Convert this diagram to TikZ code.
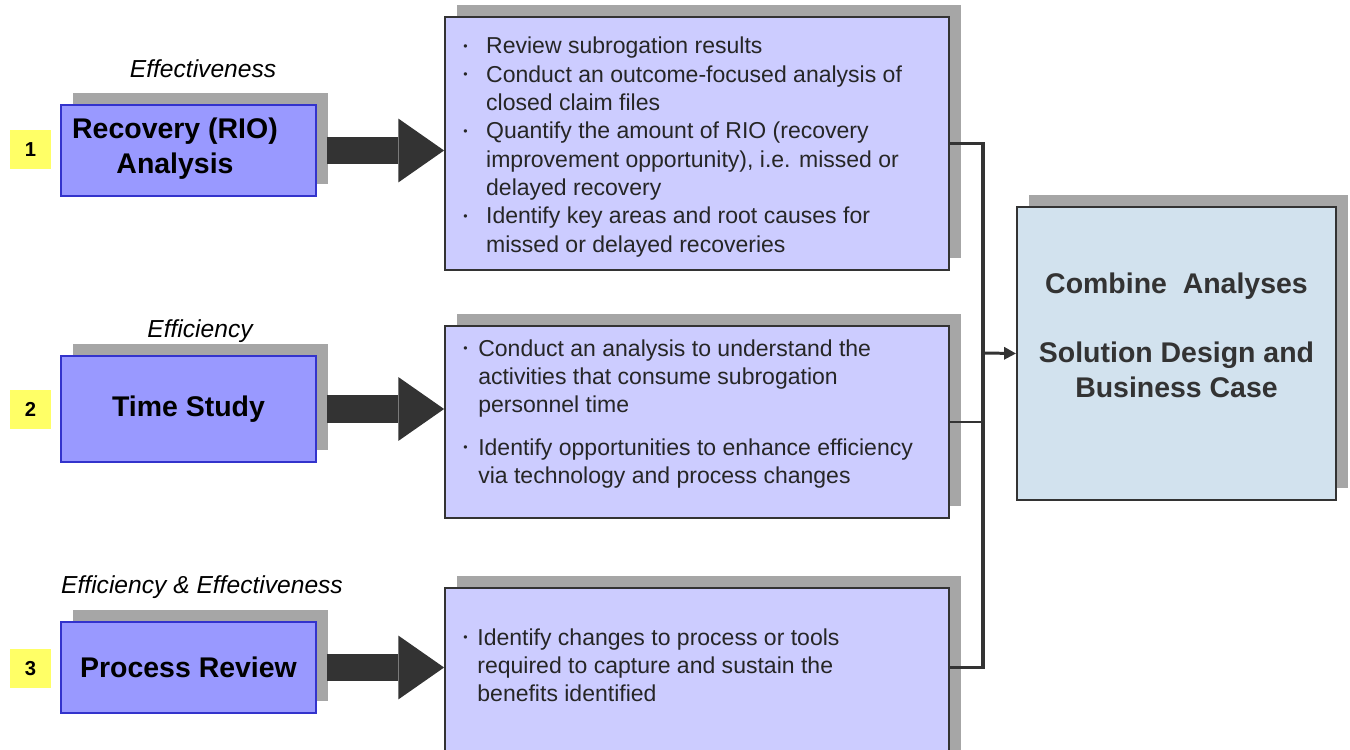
\documentclass[tikz,border=0pt]{standalone}
\usepackage{fontspec}
\setmainfont{Liberation Sans}
\usetikzlibrary{arrows.meta,shadows}
\definecolor{stepblue}{HTML}{9999FF}
\definecolor{stepedge}{HTML}{3333CC}
\definecolor{notefill}{HTML}{CCCCFF}
\definecolor{darkline}{HTML}{333333}
\definecolor{shadowgray}{HTML}{A6A6A6}
\definecolor{resultfill}{HTML}{D2E2EE}
\definecolor{tagyellow}{HTML}{FFFF66}
\newcommand{\notebul}{\raisebox{2pt}{\scriptsize\textbullet}}
\tikzset{
	boxshadow/.style={drop shadow={shadow xshift=6.8pt, shadow yshift=6.8pt, fill=shadowgray, opacity=1}},
	stepbox/.style={boxshadow, draw=stepedge, line width=1.1pt, fill=stepblue, minimum width=5.1cm, font=\fontsize{16.2}{19.8}\selectfont\bfseries},
	steptitle/.style={align=center, inner sep=0pt, font=\fontsize{16.2}{19.8}\selectfont\bfseries},
	notebox/.style={boxshadow, draw=darkline, line width=1.1pt, fill=notefill, minimum width=10.08cm},
	notetext/.style={anchor=base west, inner sep=0pt, text=black!85, font=\fontsize{13.1}{16.1}\selectfont},
	resultbox/.style={boxshadow, draw=darkline, line width=1.1pt, fill=resultfill, minimum width=6.38cm, minimum height=5.86cm},
	tagbox/.style={fill=tagyellow, minimum width=0.84cm, minimum height=0.8cm, inner sep=0pt, font=\fontsize{11.5}{13}\selectfont\bfseries},
	steplabel/.style={inner sep=0pt, font=\fontsize{14}{16}\selectfont\itshape},
	blockarrow/.style={darkline, line width=15.9pt, -{Triangle[length=26pt, width=36.3pt, line width=0pt]}},
	joinline/.style={darkline, line width=1.9pt},
}

\begin{document}
\begin{tikzpicture}[x=0.02cm, y=-0.02cm]
		%%%%% START %%%%%
		
		\useasboundingbox (0, 0) rectangle (1350, 750);
		\clip (0, 0) rectangle (1350, 750);
		
		\node[steplabel] (efflabel) at (203, 69) {Effectiveness};
		\node[stepbox, minimum height=1.82cm] (rec) at (188.5, 150.5) {};
		\node[steptitle] (rectitle) at (175, 148.5) {Recovery (RIO)\\Analysis};
		\node[tagbox] (tag1) at (30.5, 149.5) {1};
		
		\node[steplabel] (ficlabel) at (200, 331) {Efficiency};
		\node[stepbox, minimum height=2.12cm] (timestep) at (188.5, 409) {Time Study};
		\node[tagbox] (tag2) at (30.5, 409.5) {2};
		
		\node[steplabel] (bothlabel) at (202, 587) {Efficiency \& Effectiveness};
		\node[stepbox, minimum height=1.82cm] (procstep) at (188.5, 667.5) {Process Review};
		\node[tagbox] (tag3) at (30.5, 668.5) {3};
		
		\node[notebox, minimum height=5.06cm] (revbox) at (697, 143.5) {};
		\node[notetext] (revtxt) at (463, 54) {\begin{tabular}[t]{@{}p{13pt}@{}l@{}}
			\notebul & Review subrogation results\\
			\notebul & Conduct an outcome-focused analysis of\\
			& closed claim files\\
			\notebul & Quantify the amount of RIO (recovery\\
			& improvement opportunity), i.e. missed or\\
			& delayed recovery\\
			\notebul & Identify key areas and root causes for\\
			& missed or delayed recoveries
		\end{tabular}};
		
		\node[notebox, minimum height=3.84cm] (timebox) at (697, 422) {};
		\node[notetext] (timetxt) at (463, 356) {\begin{tabular}[t]{@{}p{8.5pt}@{}l@{}}
			\notebul & Conduct an analysis to understand the\\
			& activities that consume subrogation\\
			& personnel time\\[8.3pt]
			\notebul & Identify opportunities to enhance efficiency\\
			& via technology and process changes
		\end{tabular}};
		
		\node[notebox, minimum height=4.04cm] (procbox) at (697, 689) {};
		\node[notetext] (proctxt) at (463, 645) {\begin{tabular}[t]{@{}p{8pt}@{}l@{}}
			\notebul & Identify changes to process or tools\\
			& required to capture and sustain the\\
			& benefits identified
		\end{tabular}};
		
		\node[resultbox] (combine) at (1176.5, 353.5) {};
		\node[steptitle, text=darkline] (combinetxt) at (1176.5, 335) {Combine\ \ Analyses\\[19.7pt]Solution Design and\\Business Case};
		
		% block arrows
		\draw[blockarrow] ([xshift=5.6pt]rec.east) -- (rec.east -| revbox.west);
		\draw[blockarrow] ([xshift=5.6pt]timestep.east) -- (timestep.east -| timebox.west);
		\draw[blockarrow] ([xshift=5.6pt]procstep.east) -- (procstep.east -| procbox.west);
		
		% joining lines
		\coordinate (bus) at (983, 353);
		\draw[joinline] (revbox.east) -| (bus) |- (procstep.east -| procbox.east);
		\draw[joinline, line width=0.8pt] (timebox.east) -- (timebox.east -| bus);
		\draw[joinline, line width=1.7pt, -{Triangle[length=6.8pt, width=6.8pt]}] (bus) -- (combine.west);
		
		%%%%% END %%%%%
\end{tikzpicture}
\end{document}
